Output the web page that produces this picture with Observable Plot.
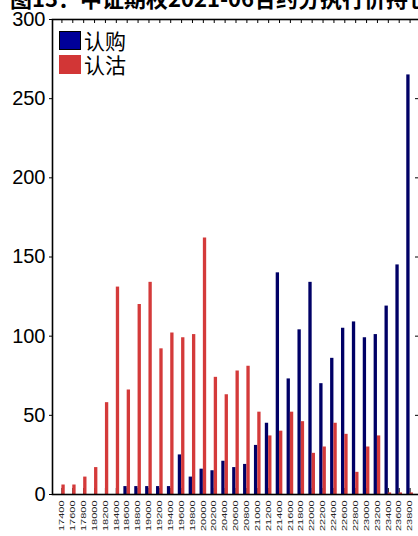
<!DOCTYPE html>
<html><head><meta charset="utf-8">
<script src="https://cdn.jsdelivr.net/npm/d3@7"></script>
<script src="https://cdn.jsdelivr.net/npm/@observablehq/plot@0.6"></script>
<style>
html,body{margin:0;padding:0;background:#fff;overflow:hidden;width:418px;height:536px;}
#wrap{position:relative;width:418px;height:536px;overflow:hidden;}
#chart{position:absolute;left:0;top:0;}
#chart svg{max-width:none !important;}
#title{position:absolute;left:10px;top:-14px;font:bold 22px "Noto Sans CJK SC",sans-serif;line-height:22px;white-space:nowrap;color:#000;}
#legend{position:absolute;left:59px;top:28px;font:21px "Noto Sans CJK SC",sans-serif;line-height:22px;color:#000;}
.row{display:flex;align-items:center;height:24px;line-height:22px;}
.sw{width:22px;height:19px;margin-right:3px;box-sizing:border-box;}
</style></head><body>
<div id="wrap"><div id="chart"></div><div id="title"></div><div id="legend"></div></div>
<script>
const titleText = "图13：中证期权2021-06合约分执行价持仓量";
const strikes = ["17400","17600","17800","18000","18200","18400","18600","18800","19000","19200","19400","19600","19800","20000","20200","20400","20600","20800","21000","21200","21400","21600","21800","22000","22200","22400","22600","22800","23000","23200","23400","23600","23800"];
const seriesNames = ["认购","认沽"];
const seriesColors = ["#000066","#d43a3a"];
const calls = [0,0,0,0,0,0,5,5,5,5,5,25,11,16,15,21,17,19,31,45,140,73,104,134,70,86,105,109,99,101,119,145,265];
const puts  = [6,6,11,17,58,131,66,120,134,92,102,99,101,162,74,63,78,81,52,37,40,52,46,26,30,45,38,14,30,37,1,1,1];
const yTicks = [0,50,100,150,200,250,300];

const callData = strikes.map((s,i)=>({strike:s, value:calls[i]}));
const putData  = strikes.map((s,i)=>({strike:s, value:puts[i]}));

const W = 421, H = 536, mL = 52, mR = 2, mT = 19, mB = 42;
const innerW = W - mL - mR, innerH = H - mT - mB;
const pIn = 0.39, pOut = 0.56;
const step = innerW / (strikes.length - pIn + 2*pOut);
const bw = step * (1 - pIn);

const marks = [
  Plot.ruleX(strikes, {x: d=>d, stroke:"#000", strokeWidth:1, insetTop: innerH-6}),
  Plot.ruleX(strikes, {x: d=>d, stroke:"#000", strokeWidth:1, insetBottom: innerH-4}),
  Plot.ruleY(yTicks, {y: d=>d, stroke:"#000", strokeWidth:1, insetLeft: innerW-4}),
  Plot.barY(callData, {x:"strike", y:"value", fill: seriesColors[0], insetRight: bw/2}),
  Plot.barY(putData, {x:"strike", y:"value", fill: seriesColors[1], insetLeft: bw/2}),
  Plot.frame({stroke:"#000", strokeWidth:1.6})
];
if (Plot.axisY) {
  marks.push(Plot.axisY(yTicks, {tickSize:3, tickPadding:4, fontSize:20, label:null, fill:"#000", fontFamily:"Liberation Sans, Arial, sans-serif"}));
  marks.push(Plot.axisX({tickRotate:-90, tickSize:0, tickPadding:6, fontSize:11, label:null, fill:"#222", fontFamily:"Liberation Sans, Arial, sans-serif"}));
}
const chart = Plot.plot({
  width: W, height: H,
  marginLeft: mL, marginRight: mR, marginTop: mT, marginBottom: mB,
  style: {background:"#fff", fontFamily:"Liberation Sans, Arial, sans-serif"},
  x: {type:"band", domain: strikes, paddingInner: pIn, paddingOuter: pOut, round:false, axis: Plot.axisY ? null : "bottom", tickRotate:-90, tickSize:0, label:null},
  y: {domain:[0,300], axis: Plot.axisY ? null : "left", ticks: yTicks, tickSize:3, label:null},
  marks
});
document.getElementById("chart").appendChild(chart);
chart.querySelectorAll('g[aria-label="x-axis tick label"] text').forEach(t=>{
  const tr = t.getAttribute("transform") || "";
  t.setAttribute("transform", tr + " scale(1,0.62)");
});
document.getElementById("title").textContent = titleText;
const lg = document.getElementById("legend");
seriesNames.forEach((n,i)=>{
  const r = document.createElement("div"); r.className="row";
  const s = document.createElement("div"); s.className="sw"; s.style.background = i===0 ? "#000099" : "#d23636";
  if(i===0) s.style.border="1px solid #000";
  const t = document.createElement("span"); t.textContent = n;
  r.appendChild(s); r.appendChild(t); lg.appendChild(r);
});
</script>
</body></html>
